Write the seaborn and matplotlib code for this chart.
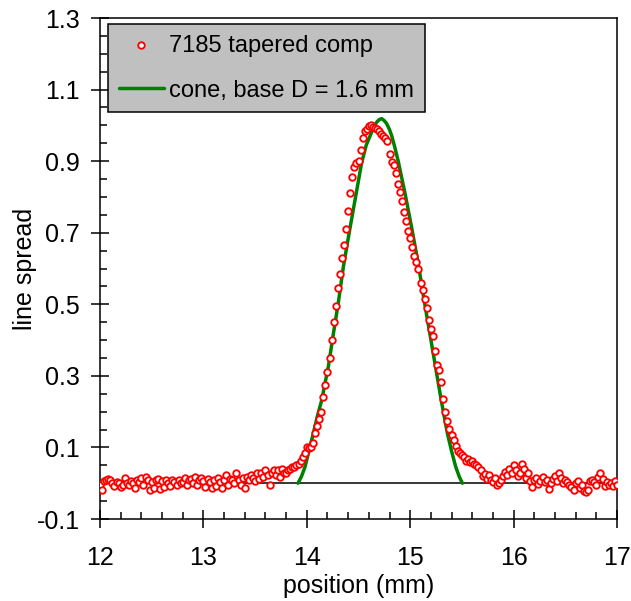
import matplotlib
matplotlib.use("Agg")
import matplotlib.pyplot as plt
from matplotlib.ticker import MultipleLocator
import numpy as np
import pandas as pd
import seaborn as sns

# measured line spread, sampled every 0.02 mm from 12.00 to 17.00
spread = [
    -0.005, -0.02, 0.005, 0.01, 0.012, 0.008, 0.0, -0.008, 0.004, 0.002,
    -0.01, -0.005, 0.015, 0.002, -0.004, 0.006, 0.0, -0.012, 0.008, 0.004,
    0.014, -0.006, 0.018, 0.01, -0.018, 0.004, -0.012, 0.008, 0.012, -0.015,
    0.006, -0.01, 0.01, 0.002, -0.008, 0.008, 0.003, -0.004, 0.01, 0.0,
    0.004, 0.016, -0.006, 0.008, 0.012, 0.002, 0.018, -0.004, 0.01, 0.015,
    0.006, -0.01, 0.012, 0.004, -0.014, 0.008, -0.008, 0.014, 0.003, -0.012,
    0.01, 0.022, -0.006, 0.012, 0.008, 0.0, 0.028, 0.01, -0.004, 0.016,
    -0.012, 0.018, 0.01, 0.024, 0.014, 0.006, 0.03, 0.012, 0.028, 0.018,
    0.036, 0.024, -0.006, 0.03, 0.038, 0.022, 0.036, 0.018, 0.04, 0.03,
    0.03, 0.036, 0.04, 0.044, 0.046, 0.05, 0.055, 0.062, 0.072, 0.085,
    0.10, 0.098, 0.102, 0.112, 0.139, 0.16, 0.18, 0.20, 0.24, 0.275,
    0.31, 0.35, 0.40, 0.45, 0.495, 0.545, 0.585, 0.63, 0.665, 0.71,
    0.76, 0.81, 0.855, 0.885, 0.895, 0.90, 0.93, 0.965, 0.985, 0.99,
    0.998, 1.0, 0.996, 0.994, 0.99, 0.985, 0.977, 0.97, 0.965, 0.955,
    0.921, 0.897, 0.89, 0.868, 0.836, 0.814, 0.79, 0.757, 0.732, 0.705,
    0.686, 0.66, 0.634, 0.618, 0.60, 0.56, 0.54, 0.515, 0.49, 0.455,
    0.43, 0.412, 0.37, 0.33, 0.316, 0.282, 0.235, 0.20, 0.175, 0.152,
    0.135, 0.12, 0.105, 0.09, 0.085, 0.08, 0.074, 0.062, 0.068, 0.058,
    0.062, 0.055, 0.05, 0.044, 0.036, 0.02, 0.026, 0.012, 0.022, 0.008,
    0.004, 0.014, -0.006, 0.002, 0.01, 0.02, 0.032, 0.022, 0.04, 0.028,
    0.05, 0.036, 0.02, 0.028, 0.055, 0.04, 0.014, 0.03, 0.006, -0.01,
    0.008, 0.014, -0.002, 0.006, 0.018, 0.004, 0.01, -0.015, 0.002, 0.012,
    0.02, 0.006, 0.028, 0.016, 0.0, 0.008, 0.004, -0.005, -0.01, -0.02,
    0.0, 0.006, -0.012, -0.004, -0.022, -0.024, -0.02, 0.006, 0.01, 0.004,
    -0.006, 0.018, 0.028, 0.012, -0.008, 0.004, -0.006, 0.002, -0.008, 0.006,
    -0.004,
]
position = np.linspace(12.0, 17.0, len(spread))

# cone model, base D = 1.6 mm
cone_x = [13.915, 13.95, 13.983, 14.02, 14.063, 14.10, 14.144, 14.18, 14.208,
          14.257, 14.305, 14.353, 14.408, 14.466, 14.53, 14.575, 14.611, 14.645,
          14.676, 14.70, 14.724, 14.75, 14.772, 14.80, 14.82, 14.85, 14.884,
          14.95, 15.013, 15.08, 15.135, 15.19, 15.245, 15.30, 15.36, 15.40,
          15.44, 15.475, 15.505]
cone_y = [0.0, 0.02, 0.046, 0.09, 0.139, 0.185, 0.232, 0.285, 0.325,
          0.418, 0.505, 0.604, 0.697, 0.791, 0.895, 0.945, 0.97, 0.994,
          1.009, 1.016, 1.019, 1.013, 1.005, 0.988, 0.972, 0.94, 0.9,
          0.81, 0.716, 0.61, 0.511, 0.418, 0.325, 0.232, 0.139, 0.09,
          0.046, 0.018, 0.0]

sns.set_theme(style="ticks")
plt.rcParams["font.family"] = ["Liberation Sans", "DejaVu Sans"]
plt.rcParams.update({
    "text.color": "black",
    "axes.labelcolor": "black",
    "xtick.color": "black",
    "ytick.color": "black",
})

fig = plt.figure(figsize=(6.31, 6.01), dpi=100)
ax = fig.add_axes([0.1585, 0.1364, 0.8193, 0.8336])

ax.axhline(0, color="black", lw=1.1, zorder=1)
sns.lineplot(x=cone_x, y=cone_y, color="#008000", lw=2.5, sort=False,
             ax=ax, zorder=2, label="cone, base D = 1.6 mm")
sns.scatterplot(x=position, y=spread, marker="o", s=22, facecolor="white",
                edgecolor="#FF0000", linewidth=1.35, ax=ax, zorder=3,
                label="7185 tapered comp")

ax.set_xlim(12, 17)
ax.set_ylim(-0.1, 1.3)
ax.xaxis.set_major_locator(MultipleLocator(1))
ax.xaxis.set_minor_locator(MultipleLocator(0.2))
ax.set_yticks(np.arange(-0.1, 1.31, 0.2))
ax.yaxis.set_minor_locator(MultipleLocator(0.05))
ax.set_yticklabels([f"{v:.1f}" for v in np.arange(-0.1, 1.31, 0.2)])

ax.tick_params(which="major", direction="inout", length=13, width=1.1,
               labelsize=18)
ax.tick_params(axis="y", which="major", pad=8)
ax.tick_params(axis="x", which="major", pad=13)
ax.tick_params(which="minor", direction="in", length=5, width=1.1)
for s in ax.spines.values():
    s.set_linewidth(1.1)
    s.set_color("black")

ax.set_xlabel("position (mm)", fontsize=18, labelpad=3)
ax.set_ylabel("line spread", fontsize=18, labelpad=0)

handles, labels = ax.get_legend_handles_labels()
order = [labels.index("7185 tapered comp"), labels.index("cone, base D = 1.6 mm")]
leg = ax.legend([handles[i] for i in order], [labels[i] for i in order],
                loc="upper left", bbox_to_anchor=(0.0155, 0.988),
                borderaxespad=0, fontsize=17, frameon=True, fancybox=False,
                framealpha=1, facecolor="#C0C0C0", edgecolor="black",
                handlelength=1.9, handletextpad=0.25, borderpad=0.45,
                labelspacing=0.97, scatterpoints=1)
leg.get_frame().set_linewidth(1.1)

fig.savefig("out.png", dpi=100)
